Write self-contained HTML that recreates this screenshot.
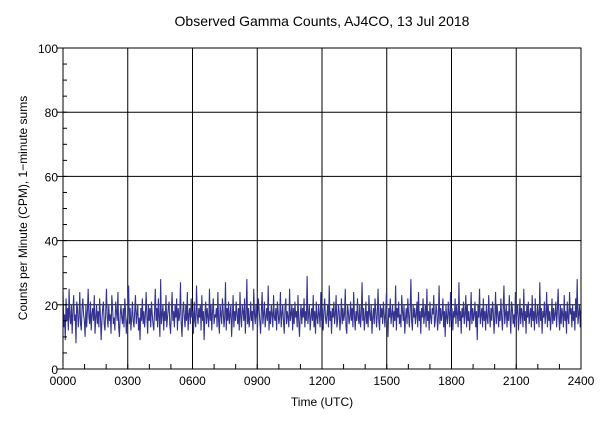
<!DOCTYPE html>
<html><head><meta charset="utf-8"><style>
body{margin:0;background:#fff;}
svg{display:block;font-family:"Liberation Sans",sans-serif;}
</style></head><body>
<svg id="chart" width="600" height="428">
<text x="322" y="26" text-anchor="middle" font-size="14">Observed Gamma Counts, AJ4CO, 13 Jul 2018</text>
<text x="322" y="406" text-anchor="middle" font-size="12">Time (UTC)</text>
<text transform="translate(27,208) rotate(-90)" text-anchor="middle" font-size="12">Counts per Minute (CPM), 1−minute sums</text>
<g id="grid"></g><g id="series"></g><g id="axes"></g>
</svg>
<script>
const xTickLabels=["0000","0300","0600","0900","1200","1500","1800","2100","2400"];
const yTickLabels=[0,20,40,60,80,100];
const counts=[
24,13,17,9,22,15,19,12,25,16,14,20,11,18,23,15,17,8,21,19,13,16,24,14,12,19,22,17,15,10,20,13,18,25,16,14,21,12,17,19,
15,23,11,16,20,14,18,13,22,17,9,15,19,21,14,12,18,25,16,13,20,15,17,11,23,19,14,16,12,21,18,15,24,13,10,17,20,16,14,19,
13,22,18,11,15,17,26,14,19,12,16,21,15,13,18,23,14,17,20,12,16,9,19,15,22,14,18,13,17,24,16,11,20,15,19,13,21,17,14,12,
18,25,15,19,13,22,16,10,28,14,17,20,12,18,15,23,13,16,19,21,14,11,17,24,15,18,13,20,16,22,12,19,15,17,27,14,10,18,21,16,
13,20,15,24,12,17,19,14,22,16,18,11,21,15,13,26,17,14,19,16,20,12,23,15,18,9,17,21,14,19,16,13,25,15,20,12,18,22,14,17,
16,19,13,24,15,11,20,17,14,22,18,13,16,27,12,19,15,21,14,17,20,10,16,23,13,18,15,21,17,14,19,12,24,16,13,20,18,15,22,11,
17,28,14,19,13,16,21,15,18,12,25,17,14,20,16,13,22,19,15,11,18,24,14,17,21,13,16,19,15,26,12,18,14,20,17,13,23,16,15,19,
12,21,18,14,16,24,13,17,20,15,11,19,22,14,18,16,13,25,15,17,20,12,19,14,21,16,18,13,23,15,10,17,20,14,19,16,22,13,18,15,
29,14,17,20,12,16,19,15,23,13,18,11,21,16,14,20,17,13,24,15,19,12,18,22,16,14,17,20,13,26,15,18,11,19,16,21,14,17,23,13,
15,20,18,12,16,22,14,19,15,17,25,13,11,20,18,14,16,21,15,19,13,24,17,12,18,15,22,16,14,20,13,17,27,15,19,12,16,21,14,18,
13,23,17,15,20,11,16,19,14,22,18,13,17,25,15,12,20,16,19,14,21,17,13,18,24,15,10,19,16,22,14,17,20,13,18,15,26,12,19,16,
21,14,17,13,23,18,15,20,11,16,19,14,22,17,13,18,28,15,12,20,16,19,14,17,21,13,24,15,18,11,19,16,22,14,17,20,13,25,15,18,
12,21,16,14,19,17,23,13,15,20,18,12,16,26,14,19,15,17,22,13,18,10,20,16,14,21,17,13,24,15,19,12,18,16,22,14,20,17,13,27,
15,18,11,19,16,21,14,17,23,13,20,15,18,12,16,24,14,19,15,17,21,13,18,9,20,16,25,14,17,19,13,22,15,18,12,20,16,14,23,17,
13,19,15,21,18,11,16,24,14,20,17,13,18,15,22,16,12,19,26,14,17,20,13,18,15,23,16,11,21,19,14,17,13,24,15,18,20,12,16,22,
14,19,17,13,25,15,18,11,20,16,21,14,17,19,13,23,15,18,12,22,16,14,20,17,13,27,15,19,11,18,16,21,14,17,24,13,20,15,18,12,
16,22,14,19,15,17,21,13,18,25,16,12,20,14,19,17,13,23,15,18,11,21,16,14,24,17,19,13,20,15,18,12,22,16,28,14,17,20,13,19];
const X0=63,X1=581,Y0=369,Y1=48;
const xs=i=>X0+(X1-X0)*i/(counts.length-1);
const xh=h=>X0+(X1-X0)*h/24;
const ys=v=>Y0-(Y0-Y1)*v/100;
const NS="http://www.w3.org/2000/svg";
function mk(t,a,p){const e=document.createElementNS(NS,t);for(const k in a)e.setAttribute(k,a[k]);p.appendChild(e);return e;}
const grid=document.getElementById('grid'),axes=document.getElementById('axes'),ser=document.getElementById('series');
yTickLabels.forEach(v=>{
 const y=ys(v);
 const l=mk('line',{x1:X0,x2:X1,y1:y,y2:y,stroke:'#000','stroke-width':1},grid);
 
 
 const t=mk('text',{x:X0-5,y:y+5,'text-anchor':'end','font-size':12},axes);t.textContent=v;
 
 
 mk('line',{x1:X0-6,x2:X0,y1:y,y2:y,stroke:'#000'},axes);
});
for(let v=0;v<=100;v+=5){mk('line',{x1:X0,x2:X0+4,y1:ys(v),y2:ys(v),stroke:'#000'},axes);}
xTickLabels.forEach((s,i)=>{
 const x=xh(i*3);
 const l=mk('line',{x1:x,x2:x,y1:Y1,y2:Y0,stroke:'#000'},grid);
 
 
 const t=mk('text',{x:x,y:Y0+16,'text-anchor':'middle','font-size':12},axes);t.textContent=s;
 
 
});
for(let h=0;h<=24;h++){mk('line',{x1:xh(h),x2:xh(h),y1:Y0,y2:Y0-5,stroke:'#000'},axes);}
mk('rect',{x:X0,y:Y1,width:X1-X0,height:Y0-Y1,fill:'none',stroke:'#000'},axes);
const pts=counts.map((v,i)=>xs(i).toFixed(2)+','+ys(v).toFixed(1)).join(' ');
const pl=mk('polyline',{points:pts,fill:'none',stroke:'#34348f','stroke-width':1.1},ser);


</script>
</body></html>
